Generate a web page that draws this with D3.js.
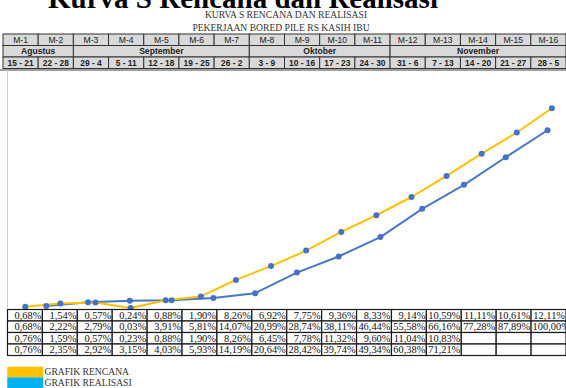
<!DOCTYPE html>
<html>
<head>
<meta charset="utf-8">
<script src="https://cdn.jsdelivr.net/npm/d3@7"></script>
<style>
  html, body { margin: 0; padding: 0; background: #fff; }
  svg { display: block; }
</style>
</head>
<body>
<svg id="chart" width="566" height="388"></svg>
<script>
// ---------- DATA ----------
const weeks = ["M-1","M-2","M-3","M-4","M-5","M-6","M-7","M-8","M-9","M-10","M-11","M-12","M-13","M-14","M-15","M-16"];
const monthNames = ["Agustus","September","Oktober","November"];
const monthSpans = [2, 5, 4, 5];
const dateRanges = ["15 - 21","22 - 28","29 - 4","5 - 11","12 - 18","19 - 25","26 - 2","3 - 9","10 - 16","17 - 23","24 - 30","31 - 6","7 - 13","14 - 20","21 - 27","28 - 5"];
const rencanaWeekly = [0.68,1.54,0.57,0.24,0.88,1.90,8.26,6.92,7.75,9.36,8.33,9.14,10.59,11.11,10.61,12.11];
const rencanaCum = [0.68,2.22,2.79,0.03,3.91,5.81,14.07,20.99,28.74,38.11,46.44,55.58,66.16,77.28,87.89,100.00];
const realisasiWeekly = [0.76,1.59,0.57,0.23,0.88,1.90,8.26,6.45,7.78,11.32,9.60,11.04,10.83];
const realisasiCum = [0.76,2.35,2.92,3.15,4.03,5.93,14.19,20.64,28.42,39.74,49.34,60.38,71.21];
const legendLabels = ["GRAFIK RENCANA","GRAFIK REALISASI"];
const titleText = "Kurva S Rencana dan Realisasi";
const subTitles = ["KURVA S RENCANA DAN REALISASI","PEKERJAAN BORED PILE RS KASIH IBU"];

// ---------- STYLE ----------
const C_YELLOW = "#FFC000", C_LBLUE = "#00B0F0", C_LINE = "#4A78C2", C_MARK = "#4472C4";
const serif = "'Liberation Serif','Times New Roman',serif";
const sans = "'Liberation Sans','DejaVu Sans',sans-serif";

const svg = d3.select("#chart");
const locale = d3.formatLocale({decimal: ",", thousands: ".", grouping: [3], currency: ["", ""]});
const fmt = v => locale.format(".2f")(v) + "%";

// ---------- TITLES ----------
svg.append("text").attr("x", 48).attr("y", 7.5)
  .attr("font-family", serif).attr("font-weight", "bold").attr("font-size", 29)
  .attr("fill", "#000").text(titleText);
svg.append("text").attr("x", 286).attr("y", 18).attr("text-anchor", "middle")
  .attr("font-family", serif).attr("font-size", 9.6).attr("fill", "#333").text(subTitles[0]);
svg.append("text").attr("x", 281).attr("y", 30.8).attr("text-anchor", "middle")
  .attr("font-family", serif).attr("font-size", 9.6).attr("fill", "#333").text(subTitles[1]);

// ---------- HEADER TABLE ----------
const hx = d3.scaleBand().domain(d3.range(weeks.length)).range([3, 566]);
const hTop = 34, hRow = 11.5;
const hdr = svg.append("g");
weeks.forEach((w, i) => {
  hdr.append("rect").attr("x", hx(i)).attr("y", hTop).attr("width", hx.bandwidth()).attr("height", hRow)
    .attr("fill", "#d9d9d9").attr("stroke", "#333").attr("stroke-width", 1);
  hdr.append("text").attr("x", hx(i) + hx.bandwidth()/2).attr("y", hTop + hRow/2 + 3.2)
    .attr("text-anchor", "middle").attr("font-family", sans).attr("font-size", 8.6).attr("fill", "#222").text(w);
});
let start = 0;
monthNames.forEach((m, k) => {
  const x0 = hx(start), x1 = hx(start + monthSpans[k] - 1) + hx.bandwidth();
  hdr.append("rect").attr("x", x0).attr("y", hTop + hRow).attr("width", x1 - x0).attr("height", hRow)
    .attr("fill", "#d9d9d9").attr("stroke", "#333").attr("stroke-width", 1);
  hdr.append("text").attr("x", (x0 + x1)/2).attr("y", hTop + hRow*1.5 + 3.2)
    .attr("text-anchor", "middle").attr("font-family", sans).attr("font-weight", "bold").attr("font-size", 8.6).attr("fill", "#222").text(m);
  start += monthSpans[k];
});
dateRanges.forEach((d, i) => {
  hdr.append("rect").attr("x", hx(i)).attr("y", hTop + hRow*2).attr("width", hx.bandwidth()).attr("height", hRow)
    .attr("fill", "#d9d9d9").attr("stroke", "#333").attr("stroke-width", 1);
  hdr.append("text").attr("x", hx(i) + hx.bandwidth()/2).attr("y", hTop + hRow*2.5 + 3.2)
    .attr("text-anchor", "middle").attr("font-family", sans).attr("font-weight", "bold").attr("font-size", 8.4).attr("fill", "#222").text(d);
});

// ---------- PLOT AREA ----------
const plotTop = 70, plotBottom = 308;
svg.append("line").attr("x1", 0).attr("x2", 566).attr("y1", plotTop).attr("y2", plotTop)
  .attr("stroke", "#7f7f7f").attr("stroke-width", 1.6);
svg.append("line").attr("x1", 7.5).attr("x2", 7.5).attr("y1", plotTop).attr("y2", plotBottom)
  .attr("stroke", "#d0d0d0").attr("stroke-width", 1);

const xR = d3.scalePoint().domain(d3.range(rencanaCum.length)).range([25.3, 551.9]);
const xA = d3.scalePoint().domain(d3.range(realisasiCum.length)).range([46.3, 547.5]);
const yR = d3.scaleLinear().domain([0, 100]).range([plotBottom, 108.3]);
const yA = d3.scaleLinear().domain([0, 80]).range([plotBottom, 108.3]);

const lineR = d3.line().x((d, i) => xR(i)).y(d => yR(d));
const lineA = d3.line().x((d, i) => xA(i)).y(d => yA(d));

svg.append("path").datum(realisasiCum).attr("d", lineA)
  .attr("fill", "none").attr("stroke", C_LINE).attr("stroke-width", 2).attr("stroke-linejoin", "round");
svg.append("path").datum(rencanaCum).attr("d", lineR)
  .attr("fill", "none").attr("stroke", C_YELLOW).attr("stroke-width", 2).attr("stroke-linejoin", "round");

svg.append("g").selectAll("circle").data(realisasiCum).join("circle")
  .attr("cx", (d, i) => xA(i)).attr("cy", d => yA(d)).attr("r", 3).attr("fill", C_MARK);
svg.append("g").selectAll("circle").data(rencanaCum).join("circle")
  .attr("cx", (d, i) => xR(i)).attr("cy", d => yR(d)).attr("r", 3).attr("fill", C_MARK);

// ---------- DATA TABLE ----------
const tx = d3.scaleBand().domain(d3.range(weeks.length)).range([7.5, 566]);
const tTop = 309.5, tRow = 11.5;
const rows = [rencanaWeekly, rencanaCum, realisasiWeekly, realisasiCum];
const tbl = svg.append("g");
rows.forEach((row, r) => {
  weeks.forEach((w, i) => {
    tbl.append("rect").attr("x", tx(i)).attr("y", tTop + r*tRow).attr("width", tx.bandwidth()).attr("height", tRow)
      .attr("fill", "#fff").attr("stroke", "#1a1a1a").attr("stroke-width", 1.2);
  });
});
rows.forEach((row, r) => {
  row.forEach((v, i) => {
    const t = tbl.append("text").attr("x", tx(i) + tx.bandwidth() - 1).attr("y", tTop + r*tRow + tRow/2 + 3.6)
      .attr("text-anchor", "end").attr("font-family", serif).attr("font-size", 10.4).attr("fill", "#111")
      .text(fmt(v));
    // text wider than its cell runs on to the right from the cell's left edge
    if (t.node().getComputedTextLength() > tx.bandwidth() - 2) {
      t.attr("text-anchor", "start").attr("x", tx(i) + 1.5);
    }
  });
});

// ---------- LEGEND ----------
const legColors = [C_YELLOW, C_LBLUE];
legendLabels.forEach((l, k) => {
  svg.append("rect").attr("x", 7.3).attr("y", 366.7 + k*10.7).attr("width", 36).attr("height", 10.7).attr("fill", legColors[k]);
  svg.append("text").attr("x", 44.5).attr("y", 375 + k*10.8)
    .attr("font-family", serif).attr("font-size", 9.6).attr("fill", "#333").text(l);
});
</script>
</body>
</html>
